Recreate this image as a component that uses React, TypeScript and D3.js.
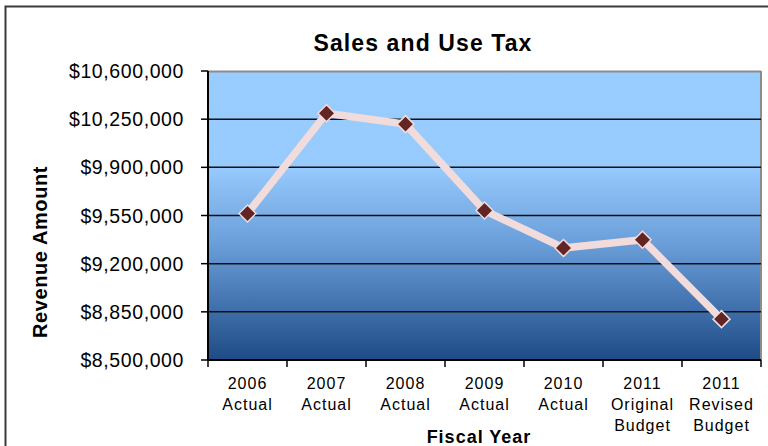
import React from "react";
import * as d3 from "d3";

const categories: string[][] = [
  ["2006", "Actual"],
  ["2007", "Actual"],
  ["2008", "Actual"],
  ["2009", "Actual"],
  ["2010", "Actual"],
  ["2011", "Original", "Budget"],
  ["2011", "Revised", "Budget"],
];
const revenue: number[] = [9565000, 10293000, 10214000, 9586000, 9314000, 9374000, 8797000];
const yTicks: number[] = [8500000, 8850000, 9200000, 9550000, 9900000, 10250000, 10600000];

const W = 768;
const H = 446;
const plot = { left: 208, right: 761, top: 71, bottom: 360 };

export default function App() {
  const keys = categories.map((c) => c.join(" "));
  const x = d3.scaleBand<string>().domain(keys).range([plot.left, plot.right]).padding(0);
  const y = d3.scaleLinear().domain([8500000, 10600000]).range([plot.bottom, plot.top]);
  const fmt = (v: number) => "$" + d3.format(",")(v);
  const cx = (i: number) => (x(keys[i]) as number) + x.bandwidth() / 2;
  const line = d3
    .line<number>()
    .x((_, i) => cx(i))
    .y((d) => y(d));
  const boundaries = keys.map((k) => x(k) as number).concat([plot.right]);
  const r = 8.5;

  return (
    <svg
      width={W}
      height={H}
      style={{ position: "absolute", left: 0, top: 0, fontFamily: "'Liberation Sans', Arial, sans-serif" }}
    >
      <defs>
        <linearGradient id="bg" x1="0" y1="0" x2="0" y2="1">
          <stop offset="0" stopColor="#99CCFF" />
          <stop offset="0.33" stopColor="#97CAFD" />
          <stop offset="0.6" stopColor="#6A9ED9" />
          <stop offset="1" stopColor="#1E4B86" />
        </linearGradient>
      </defs>
      <rect x={0} y={0} width={W} height={H} fill="#ffffff" />
      <rect x={5.5} y={6.5} width={W} height={H} fill="none" stroke="#3a3a3a" strokeWidth={2} />

      <text x={423} y={51} textAnchor="middle" fontSize={23} fontWeight="bold" letterSpacing={1.1} fill="#000">
        Sales and Use Tax
      </text>

      <rect
        x={plot.left}
        y={plot.top}
        width={plot.right - plot.left}
        height={plot.bottom - plot.top}
        fill="url(#bg)"
      />
      <line x1={plot.left} x2={plot.right} y1={plot.top + 0.5} y2={plot.top + 0.5} stroke="#8c8c8c" strokeWidth={2} />
      <line x1={plot.right} x2={plot.right} y1={plot.top} y2={plot.bottom} stroke="#8c8c8c" strokeWidth={2} />

      {yTicks.map((t) => (
        <g key={t}>
          {t !== 10600000 && t !== 8500000 && (
            <line x1={plot.left} x2={plot.right} y1={y(t)} y2={y(t)} stroke="#111" strokeWidth={1.5} />
          )}
          <line x1={plot.left - 7} x2={plot.left} y1={y(t)} y2={y(t)} stroke="#000" strokeWidth={1.5} />
          <text x={184} y={y(t) + 7} textAnchor="end" fontSize={19.5} letterSpacing={0.6} fill="#000">
            {fmt(t)}
          </text>
        </g>
      ))}

      <line x1={plot.left} x2={plot.left} y1={plot.top} y2={plot.bottom} stroke="#000" strokeWidth={2} />
      <line x1={plot.left} x2={plot.right} y1={plot.bottom} y2={plot.bottom} stroke="#000" strokeWidth={2} />
      {boundaries.map((b, i) => (
        <line key={i} x1={b} x2={b} y1={plot.bottom} y2={plot.bottom + 7} stroke="#000" strokeWidth={1.5} />
      ))}

      {categories.map((c, i) => (
        <text key={i} textAnchor="middle" fontSize={16} letterSpacing={1} fill="#000">
          {c.map((s, j) => (
            <tspan key={j} x={cx(i)} y={389 + j * 21}>
              {s}
            </tspan>
          ))}
        </text>
      ))}

      <path d={line(revenue) || ""} fill="none" stroke="#F2DCDB" strokeWidth={7.5} strokeLinejoin="round" />
      {revenue.map((v, i) => (
        <path
          key={i}
          d={`M${cx(i)},${y(v) - r} L${cx(i) + r},${y(v)} L${cx(i)},${y(v) + r} L${cx(i) - r},${y(v)} Z`}
          fill="#632523"
          stroke="#F2DCDB"
          strokeWidth={1.5}
        />
      ))}

      <text
        transform={`translate(47,252) rotate(-90)`}
        textAnchor="middle"
        fontSize={20}
        fontWeight="bold"
        letterSpacing={0.6}
        fill="#000"
      >
        Revenue Amount
      </text>
      <text x={479} y={443} textAnchor="middle" fontSize={18} fontWeight="bold" letterSpacing={1} fill="#000">
        Fiscal Year
      </text>
    </svg>
  );
}
